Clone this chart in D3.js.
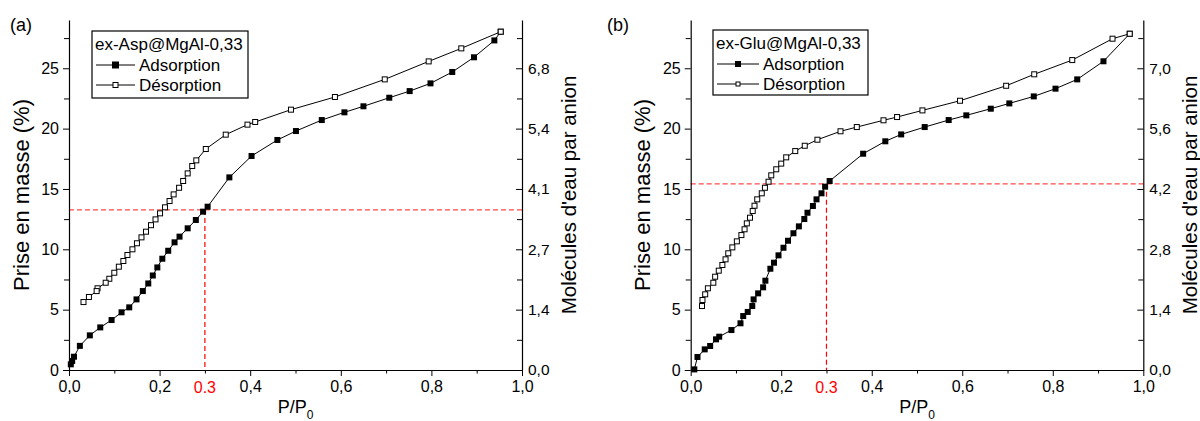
<!DOCTYPE html>
<html><head><meta charset="utf-8">
<script src="https://cdn.jsdelivr.net/npm/d3@7"></script>
<style>body{margin:0;background:#fff}svg{display:block;font-family:"Liberation Sans",Arial,sans-serif}</style>
</head><body><svg id="c" width="1200" height="421"></svg>
<script>
// ---------- data ----------
const aAdsX = [0.004,0.007,0.011,0.024,0.046,0.069,0.094,0.116,0.133,0.149,0.163,0.175,0.185,0.195,0.206,0.219,0.233,0.244,0.262,0.280,0.296,0.306,0.354,0.403,0.460,0.501,0.558,0.608,0.650,0.707,0.752,0.798,0.846,0.894,0.939,0.953];
const aAdsY = [0.47,0.75,1.1,2.0,2.87,3.53,4.14,4.78,5.19,5.85,6.54,7.17,7.83,8.5,9.22,9.88,10.58,11.05,11.74,12.43,13.12,13.53,15.96,17.73,19.06,19.8,20.71,21.35,21.85,22.56,23.11,23.75,24.69,25.91,27.31,28.03];
const aDesX = [0.953,0.866,0.794,0.697,0.587,0.490,0.411,0.394,0.346,0.302,0.281,0.272,0.262,0.252,0.243,0.231,0.222,0.212,0.201,0.191,0.181,0.170,0.160,0.150,0.140,0.129,0.120,0.110,0.100,0.089,0.081,0.063,0.061,0.044,0.032];
const aDesY = [28.03,26.65,25.57,24.08,22.62,21.57,20.55,20.33,19.5,18.31,17.37,16.9,16.29,15.66,15.1,14.55,14.0,13.48,12.98,12.48,12.0,11.46,10.99,10.5,10.0,9.53,9.03,8.56,8.06,7.56,7.23,6.77,6.54,6.05,5.63];
const bAdsX = [0.008,0.015,0.031,0.043,0.056,0.063,0.090,0.110,0.116,0.126,0.136,0.139,0.149,0.160,0.165,0.176,0.184,0.194,0.205,0.215,0.227,0.239,0.251,0.258,0.270,0.278,0.289,0.297,0.307,0.381,0.430,0.465,0.517,0.570,0.609,0.663,0.704,0.758,0.806,0.854,0.912,0.970];
const bAdsY = [0.05,1.08,1.71,1.99,2.54,2.76,3.31,3.87,4.47,4.81,5.30,5.85,6.35,6.85,7.4,8.39,8.89,9.50,10.13,10.71,11.33,11.9,12.51,13.03,13.59,14.14,14.64,15.19,15.66,17.92,18.95,19.52,20.13,20.71,21.1,21.65,22.09,22.67,23.31,24.08,25.58,27.86];
const bDesX = [0.970,0.932,0.843,0.759,0.697,0.595,0.512,0.456,0.426,0.367,0.331,0.280,0.252,0.231,0.211,0.200,0.189,0.178,0.172,0.164,0.157,0.147,0.141,0.137,0.131,0.124,0.119,0.112,0.102,0.092,0.083,0.077,0.070,0.062,0.054,0.050,0.038,0.032,0.026,0.025];
const bDesY = [27.86,27.45,25.68,24.5,23.55,22.31,21.51,20.96,20.69,20.13,19.78,19.08,18.58,18.14,17.62,17.1,16.63,16.13,15.6,15.1,14.64,14.14,13.61,13.17,12.62,12.15,11.66,11.18,10.66,10.16,9.67,9.17,8.7,8.23,7.73,7.23,6.77,6.27,5.8,5.3];

const xTicks = [0,0.2,0.4,0.6,0.8,1.0];
const xTickLabels = ["0,0","0,2","0,4","0,6","0,8","1,0"];
const xMinor = [0.1,0.3,0.5,0.7,0.9];
const yTicks = [0,5,10,15,20,25];
const yMinor = [2.5,7.5,12.5,17.5,22.5,27.5];
const aRightLabels = ["0,0","1,4","2,7","4,1","5,4","6,8"];
const bRightLabels = ["0,0","1,4","2,8","4,2","5,6","7,0"];
const markX = 0.3, markLabel = "0.3";
const aMarkY = 13.26, bMarkY = 15.43;
const seriesNames = ["Adsorption","Désorption"];
const aTitle = "ex-Asp@MgAl-0,33", bTitle = "ex-Glu@MgAl-0,33";

// ---------- drawing ----------
const svg = d3.select("#c");
const TOP = 20, BOT = 370;

function panel(o){
  const g = svg.append("g");
  const x = d3.scaleLinear().domain([0,1]).range([o.x0,o.x1]);
  const y = d3.scaleLinear().domain([0,29]).range([BOT,TOP]);

  // dashed guide lines
  g.append("line").attr("x1",x(0)).attr("x2",x(1)).attr("y1",y(o.markY)).attr("y2",y(o.markY))
    .attr("stroke","#ff4848").attr("stroke-width",1.2).attr("stroke-dasharray","5,3");
  g.append("line").attr("x1",x(markX)).attr("x2",x(markX)).attr("y1",y(o.markY)).attr("y2",y(0))
    .attr("stroke","#ff0000").attr("stroke-width",1.2).attr("stroke-dasharray","5,3");

  const styleAxis = (sel, fs) => {
    sel.select(".domain").attr("stroke","#000").attr("stroke-width",1.2);
    sel.selectAll(".tick line").attr("stroke","#000").attr("stroke-width",1);
    sel.selectAll("text").attr("font-size",fs).attr("fill","#000").attr("font-family","Liberation Sans, Arial, sans-serif");
  };

  // bottom axis
  const bx = g.append("g").attr("transform",`translate(0,${BOT})`)
    .call(d3.axisBottom(x).tickValues(xTicks).tickSize(6).tickSizeOuter(0).tickPadding(5)
      .tickFormat((d,i)=>xTickLabels[i]));
  styleAxis(bx,16);
  const bxm = g.append("g").attr("transform",`translate(0,${BOT})`)
    .call(d3.axisBottom(x).tickValues(xMinor).tickSize(3.5).tickFormat(""));
  bxm.select(".domain").remove(); styleAxis(bxm,16);
  g.append("text").attr("x",x(markX)).attr("y",BOT+23).attr("text-anchor","middle")
    .attr("font-size",16).attr("fill","#ff0000").text(markLabel);

  // left axis
  const ly = g.append("g").attr("transform",`translate(${o.x0},0)`)
    .call(d3.axisLeft(y).tickValues(yTicks).tickSize(6).tickSizeOuter(0).tickPadding(4).tickFormat(d3.format("d")));
  styleAxis(ly,16);
  const lym = g.append("g").attr("transform",`translate(${o.x0},0)`)
    .call(d3.axisLeft(y).tickValues(yMinor).tickSize(5).tickFormat(""));
  lym.select(".domain").remove(); styleAxis(lym,16);

  // right axis (ticks inward)
  const ry = g.append("g").attr("transform",`translate(${o.x1},0)`)
    .call(d3.axisRight(y).tickValues(yTicks).tickSize(-6).tickSizeOuter(0).tickPadding(6)
      .tickFormat((d,i)=>o.rightLabels[i]));
  styleAxis(ry,15.5);
  const rym = g.append("g").attr("transform",`translate(${o.x1},0)`)
    .call(d3.axisRight(y).tickValues(yMinor).tickSize(-5).tickFormat(""));
  rym.select(".domain").remove(); styleAxis(rym,15.5);

  // axis titles
  const midY = (TOP+BOT)/2;
  g.append("text").attr("transform",`translate(${o.x0-48},${midY}) rotate(-90)`)
    .attr("text-anchor","middle").attr("dominant-baseline","central").attr("font-size",22).text("Prise en masse (%)");
  g.append("text").attr("transform",`translate(${o.x1+46},${midY}) rotate(-90)`)
    .attr("text-anchor","middle").attr("dominant-baseline","central").attr("font-size",20.5).text("Molécules d'eau par anion");
  const xt = g.append("text").attr("x",(o.x0+o.x1)/2).attr("y",413).attr("text-anchor","middle").attr("font-size",18);
  xt.append("tspan").text("P/P");
  xt.append("tspan").attr("font-size",12).attr("dy",6).text("0");

  // panel label
  g.append("text").attr("x",o.labX).attr("y",31).attr("font-size",18).text(o.label);

  // series
  const line = d3.line().x(d=>x(d[0])).y(d=>y(d[1]));
  const ads = o.adsX.map((v,i)=>[v,o.adsY[i]]);
  const des = o.desX.map((v,i)=>[v,o.desY[i]]);
  g.append("path").datum(des).attr("d",line).attr("fill","none").attr("stroke","#000").attr("stroke-width",1);
  g.append("path").datum(ads).attr("d",line).attr("fill","none").attr("stroke","#000").attr("stroke-width",1);
  const ms = 6, mo = 5;
  g.selectAll(".ad").data(ads).join("rect").attr("x",d=>x(d[0])-ms/2).attr("y",d=>y(d[1])-ms/2)
    .attr("width",ms).attr("height",ms).attr("fill","#000");
  g.selectAll(".de").data(des).join("rect").attr("x",d=>x(d[0])-mo/2).attr("y",d=>y(d[1])-mo/2)
    .attr("width",mo).attr("height",mo).attr("fill","#fff").attr("stroke","#000").attr("stroke-width",1);

  // legend
  const L = o.leg;
  g.append("rect").attr("x",L.x).attr("y",L.y).attr("width",L.w).attr("height",L.h)
    .attr("fill","#fff").attr("stroke","#000").attr("stroke-width",1.2);
  g.append("text").attr("x",L.x+3).attr("y",L.y+19).attr("font-size",17).text(o.title);
  const rows = [L.y+34, L.y+54];
  rows.forEach((ry0,i)=>{
    g.append("line").attr("x1",L.x+4).attr("x2",L.x+4+L.lw).attr("y1",ry0).attr("y2",ry0).attr("stroke","#000").attr("stroke-width",1);
    const cx = L.x+4+L.lw/2, s = i===0?L.ms:L.ms-1;
    g.append("rect").attr("x",cx-s/2).attr("y",ry0-s/2).attr("width",s).attr("height",s)
      .attr("fill",i===0?"#000":"#fff").attr("stroke","#000").attr("stroke-width",1);
    g.append("text").attr("x",L.x+8+L.lw).attr("y",ry0+6).attr("font-size",17).text(seriesNames[i]);
  });
}

panel({x0:69,x1:522,adsX:aAdsX,adsY:aAdsY,desX:aDesX,desY:aDesY,markY:aMarkY,rightLabels:aRightLabels,
  label:"(a)",labX:10,title:aTitle,leg:{x:92,y:31,w:156,h:67,lw:39,ms:6}});
panel({x0:690.7,x1:1143.3,adsX:bAdsX,adsY:bAdsY,desX:bDesX,desY:bDesY,markY:bMarkY,rightLabels:bRightLabels,
  label:"(b)",labX:607,title:bTitle,leg:{x:713,y:30,w:155,h:65,lw:42,ms:5}});
</script></body></html>
